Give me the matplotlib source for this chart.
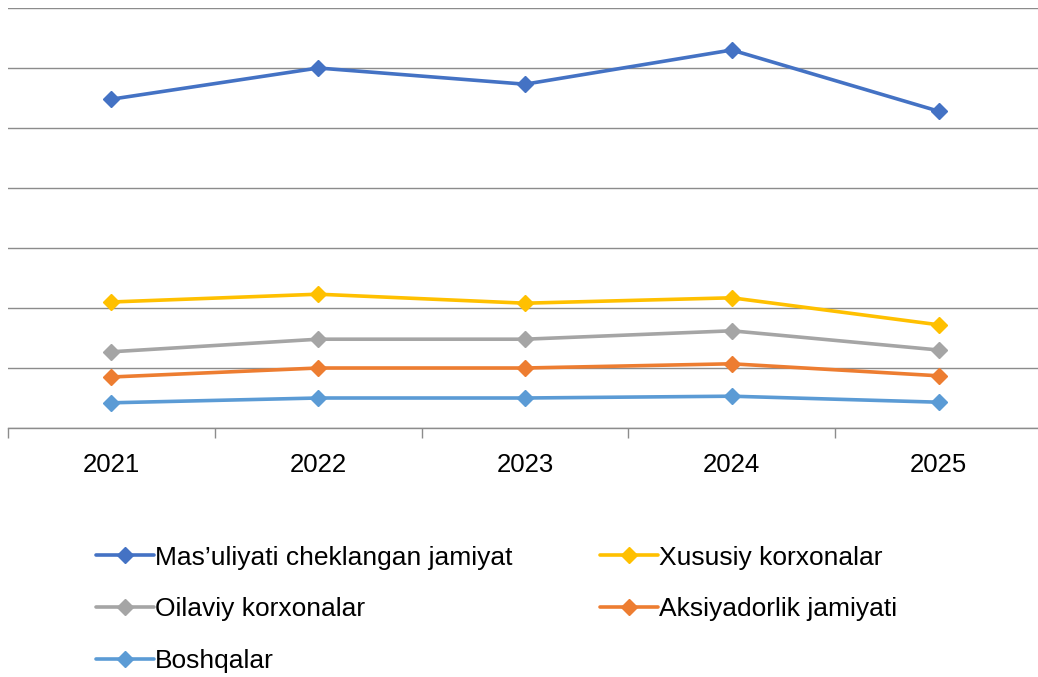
import matplotlib
matplotlib.use("Agg")
import matplotlib.pyplot as plt
import numpy as np

plt.rcParams["font.family"] = ["Liberation Sans", "DejaVu Sans"]

years = ["2021", "2022", "2023", "2024", "2025"]
mchj = [54.8, 60.0, 57.3, 63.0, 52.8]
xususiy = [21.0, 22.3, 20.8, 21.7, 17.2]
oilaviy = [12.7, 14.8, 14.8, 16.2, 13.0]
aksiyadorlik = [8.5, 10.0, 10.0, 10.7, 8.7]
boshqalar = [4.2, 5.0, 5.0, 5.3, 4.3]

series = [
    ("Mas\u2019uliyati cheklangan jamiyat", mchj, "#4472C4"),
    ("Xususiy korxonalar", xususiy, "#FFC000"),
    ("Oilaviy korxonalar", oilaviy, "#A5A5A5"),
    ("Aksiyadorlik jamiyati", aksiyadorlik, "#ED7D31"),
    ("Boshqalar", boshqalar, "#5B9BD5"),
]

fig = plt.figure(figsize=(10.38, 6.77), dpi=100)
ax = fig.add_axes([8 / 1038, 1 - 428 / 677, 1034 / 1038, 420 / 677])

x = np.arange(len(years))
lines = {}
for name, vals, col in series:
    (ln,) = ax.plot(x, vals, color=col, lw=2.6, marker="D", ms=8,
                    label=name, solid_capstyle="round")
    lines[name] = ln

ax.set_xlim(-0.5, len(years) - 0.5)
ax.set_ylim(0, 70)
ax.set_yticks(np.arange(0, 71, 10))
ax.yaxis.grid(True, color="#8C8C8C", lw=1.0)
ax.set_axisbelow(True)
ax.tick_params(axis="y", left=False, labelleft=False)
for s in ("left", "right", "top"):
    ax.spines[s].set_visible(False)
ax.spines["bottom"].set_color("#8C8C8C")
ax.spines["bottom"].set_linewidth(1.0)

ax.set_xticks(x)
ax.set_xticklabels(years, fontsize=18.5)
ax.tick_params(axis="x", which="major", length=0, pad=18)
ax.set_xticks(np.arange(-0.5, len(years)), minor=True)
ax.tick_params(axis="x", which="minor", length=7, width=1.0, color="#8C8C8C")

order = [series[0][0], series[2][0], series[4][0], series[1][0], series[3][0]]
fig.legend([lines[n] for n in order], order, loc="upper left",
           bbox_to_anchor=(85 / 1038, 1 - 535 / 677), ncol=2, frameon=False,
           fontsize=19, handlelength=2.2, handletextpad=0.05,
           columnspacing=3.3, labelspacing=1.05, borderaxespad=0)

fig.savefig("out.png", dpi=100, facecolor="white")
